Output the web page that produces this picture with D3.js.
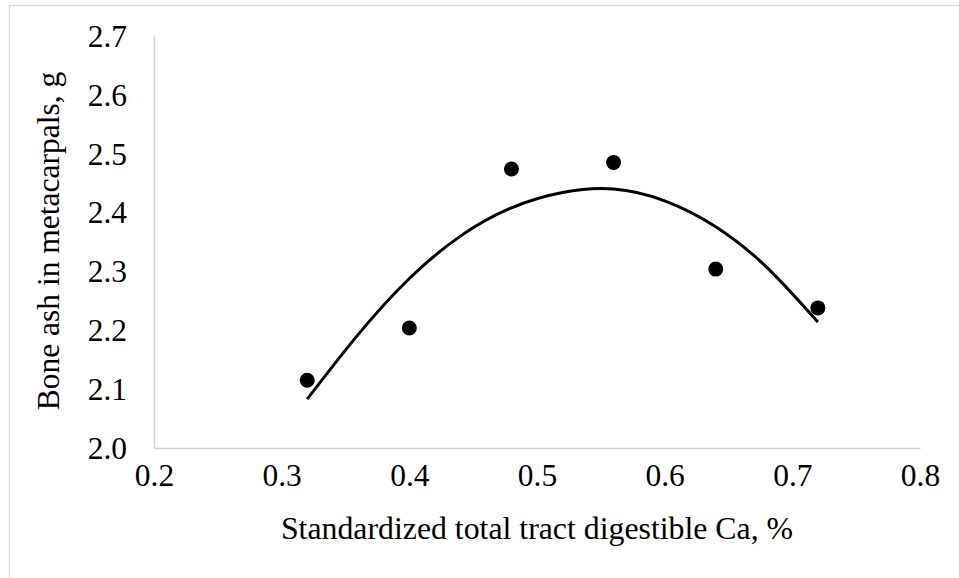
<!DOCTYPE html>
<html>
<head>
<meta charset="utf-8">
<script src="https://d3js.org/d3.v7.min.js"></script>
<style>
  body { margin: 0; background: #fff; }
  text { font-family: "Liberation Serif", "Times New Roman", serif; fill: #000; }
</style>
</head>
<body>
<svg id="chart" width="959" height="578"></svg>
<script>
// observed points
const caLevels = [0.32, 0.40, 0.48, 0.56, 0.64, 0.72];
const boneAsh = [2.115, 2.204, 2.474, 2.485, 2.304, 2.238];

// fitted trend line
const trendX = [0.32, 0.36, 0.40, 0.44, 0.48, 0.52, 0.56, 0.60, 0.64, 0.68, 0.72];
const trendY = [2.083, 2.193, 2.288, 2.360, 2.408, 2.434, 2.440, 2.420, 2.376, 2.307, 2.214];

const xTicks = [0.2, 0.3, 0.4, 0.5, 0.6, 0.7, 0.8];
const yTicks = [2.0, 2.1, 2.2, 2.3, 2.4, 2.5, 2.6, 2.7];

const svg = d3.select("#chart");
const plotL = 154, plotR = 920, plotT = 36, plotB = 448;

// outer chart border
svg.append("rect")
  .attr("x", 9.5).attr("y", 5.5)
  .attr("width", 960).attr("height", 600)
  .attr("fill", "none").attr("stroke", "#d9d9d9").attr("stroke-width", 1.3);

const x = d3.scaleLinear().domain([0.2, 0.8]).range([plotL, plotR]);
const y = d3.scaleLinear().domain([2.0, 2.7]).range([plotB, plotT]);

const xAxis = svg.append("g")
  .attr("transform", "translate(0," + plotB + ")")
  .call(d3.axisBottom(x).tickValues(xTicks).tickFormat(d3.format(".1f")).tickSize(0).tickPadding(16));
xAxis.select(".domain").attr("stroke", "#d0d0d0").attr("stroke-width", 1.5);
xAxis.selectAll("text").style("font-size", "31.5px").attr("dy", "0.71em");

const yAxis = svg.append("g")
  .attr("transform", "translate(" + plotL + ",0)")
  .call(d3.axisLeft(y).tickValues(yTicks).tickFormat(d3.format(".1f")).tickSize(0).tickPadding(27));
yAxis.select(".domain").attr("stroke", "#d0d0d0").attr("stroke-width", 1.5);
yAxis.selectAll("text").style("font-size", "31.5px").attr("dy", "0.33em");

// trend line
const trend = trendX.map((v, i) => ({x: v, y: trendY[i]}));
svg.append("path")
  .datum(trend)
  .attr("fill", "none")
  .attr("stroke", "#000")
  .attr("stroke-width", 3)
  .attr("d", d3.line().x(d => x(d.x)).y(d => y(d.y)).curve(d3.curveNatural));

// points
svg.append("g").selectAll("circle")
  .data(caLevels.map((v, i) => ({x: v, y: boneAsh[i]})))
  .join("circle")
  .attr("cx", d => x(d.x))
  .attr("cy", d => y(d.y))
  .attr("r", 7.5)
  .attr("fill", "#000");

svg.append("text")
  .attr("x", (plotL + plotR) / 2)
  .attr("y", 539)
  .attr("text-anchor", "middle")
  .style("font-size", "31.8px")
  .text("Standardized total tract digestible Ca, %");

svg.append("text")
  .attr("transform", "translate(59,241) rotate(-90)")
  .attr("text-anchor", "middle")
  .style("font-size", "31.5px")
  .text("Bone ash in metacarpals, g");
</script>
</body>
</html>
